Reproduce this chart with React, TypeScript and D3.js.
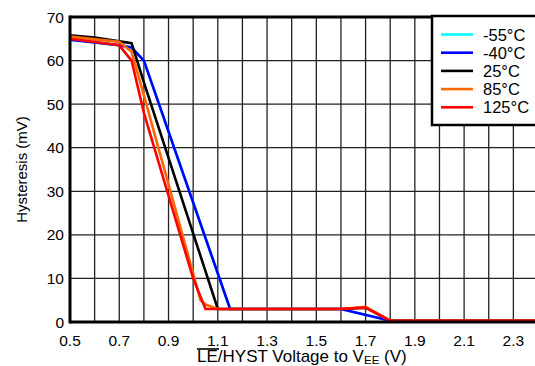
import React from "react";
import * as d3 from "d3";

const seriesNames = ["-55°C", "-40°C", "25°C", "85°C", "125°C"];
const seriesColors = ["#00FFFF", "#0000FF", "#000000", "#FF6600", "#FF0000"];

const xM55 = [0.5, 0.7, 0.75, 0.8, 1.15, 1.6, 1.8, 2.4];
const yM55 = [64.8, 63.5, 63.0, 60.0, 3.0, 3.0, 0.3, 0.3];
const xM40 = [0.5, 0.7, 0.75, 0.8, 1.15, 1.6, 1.8, 2.4];
const yM40 = [64.8, 63.5, 63.0, 60.0, 3.0, 3.0, 0.3, 0.3];
const x25 = [0.5, 0.6, 0.7, 0.75, 0.8, 1.1, 1.6, 1.7, 1.8, 2.4];
const y25 = [65.8, 65.3, 64.4, 64.0, 55.0, 3.0, 3.0, 3.3, 0.3, 0.3];
const x85 = [0.5, 0.7, 0.75, 0.8, 1.03, 1.05, 1.1, 1.6, 1.7, 1.8, 2.4];
const y85 = [65.5, 64.3, 62.0, 52.0, 5.0, 4.0, 3.0, 3.0, 3.5, 0.3, 0.3];
const x125 = [0.5, 0.7, 0.75, 0.8, 1.0, 1.05, 1.6, 1.7, 1.8, 2.4];
const y125 = [65.0, 63.5, 60.0, 48.0, 10.0, 3.0, 3.0, 3.3, 0.3, 0.3];

const seriesX = [xM55, xM40, x25, x85, x125];
const seriesY = [yM55, yM40, y25, y85, y125];

const xTickLabels = [0.5, 0.7, 0.9, 1.1, 1.3, 1.5, 1.7, 1.9, 2.1, 2.3];
const yTickLabels = [0, 10, 20, 30, 40, 50, 60, 70];

export default function App() {
  const W = 535, H = 366;
  const left = 70, right = 538, top = 17, bottom = 322;
  const x = d3.scaleLinear().domain([0.5, 2.4]).range([left, right]);
  const y = d3.scaleLinear().domain([0, 70]).range([bottom, top]);
  const line = d3.line<[number, number]>().x(d => x(d[0])).y(d => y(d[1]));
  const vGrid = d3.range(0.6, 2.41, 0.1);
  const hGrid = d3.range(10, 70, 10);
  const font = "'Liberation Sans', Arial, sans-serif";
  const legX = 432, legY = 16;
  return (
    <svg width={W} height={H} style={{ position: "absolute", left: 0, top: 0 }} fontFamily={font}>
      <rect x={0} y={0} width={W} height={H} fill="#fff" />
      {vGrid.map((v, i) => (
        <line key={"v" + i} x1={x(v)} x2={x(v)} y1={top} y2={bottom} stroke="#222" strokeWidth={1.3} />
      ))}
      {hGrid.map((v, i) => (
        <line key={"h" + i} x1={left} x2={right} y1={y(v)} y2={y(v)} stroke="#222" strokeWidth={1.3} />
      ))}
      {seriesX.map((xs, si) => (
        <path key={si} d={line(xs.map((xv, j) => [xv, seriesY[si][j]]) as [number, number][]) || ""}
          fill="none" stroke={seriesColors[si]} strokeWidth={2.6} strokeLinejoin="miter" />
      ))}
      <line x1={left} x2={right} y1={top} y2={top} stroke="#000" strokeWidth={3} />
      <line x1={left} x2={right} y1={bottom} y2={bottom} stroke="#000" strokeWidth={3} />
      <line x1={left} x2={left} y1={top - 1.5} y2={bottom + 1.5} stroke="#000" strokeWidth={3} />
      {yTickLabels.map((v, i) => (
        <text key={"yl" + i} x={left - 6} y={y(v) + 5.5} textAnchor="end" fontSize={15.5} fill="#000">{v}</text>
      ))}
      {xTickLabels.map((v, i) => (
        <text key={"xl" + i} x={x(v)} y={bottom + 23.5} textAnchor="middle" fontSize={15.5} fill="#000">{v.toFixed(1)}</text>
      ))}
      <text transform={`translate(27,${(top + bottom) / 2}) rotate(-90)`} textAnchor="middle" fontSize={15} fill="#000">Hysteresis (mV)</text>
      <text x={197} y={362} fontSize={17} fill="#000">
        <tspan>LE/HYST Voltage to V</tspan>
        <tspan fontSize={11.5} dy={2}>EE</tspan>
        <tspan dy={-2}> (V)</tspan>
      </text>
      <line x1={197} x2={219} y1={349} y2={349} stroke="#000" strokeWidth={1.6} />
      <rect x={legX} y={legY} width={120} height={109} fill="#fff" stroke="#000" strokeWidth={2.5} />
      {seriesNames.map((n, i) => (
        <g key={"lg" + i}>
          <line x1={441} x2={473} y1={34.5 + i * 18.2} y2={34.5 + i * 18.2} stroke={seriesColors[i]} strokeWidth={2.6} />
          <text x={483} y={34.5 + i * 18.2 + 6} fontSize={16.5} fill="#000">{n}</text>
        </g>
      ))}
    </svg>
  );
}
